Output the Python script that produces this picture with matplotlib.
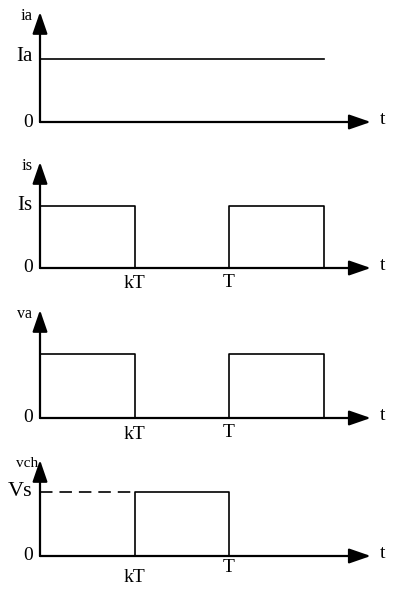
import numpy as np
import matplotlib
matplotlib.use("Agg")
import matplotlib.pyplot as plt

plt.rcParams["font.family"] = ["Liberation Serif", "DejaVu Serif"]
plt.rcParams["lines.scale_dashes"] = False

# time in units of the period T, duty ratio k = 0.5
k = 0.5
t_end = 1.5

t_ia = [0, t_end]
y_ia = [1, 1]

t_is = [0, 0, k, k, 1, 1, t_end, t_end]
y_is = [0, 1, 1, 0, 0, 1, 1, 0]

t_va = [0, 0, k, k, 1, 1, t_end, t_end]
y_va = [0, 1, 1, 0, 0, 1, 1, 0]

t_vch = [k, k, 1, 1]
y_vch = [0, 1, 1, 0]
t_vch_dash = [0, k]
y_vch_dash = [1, 1]

W, H = 393, 592
fig = plt.figure(figsize=(W / 100, H / 100), dpi=100)

X0 = 40          # pixel column of t = 0
PX_T = 189       # pixels per period
T_ARROW = 1.75   # tip of the time axis


def panel(base_px, level_px, tip_px):
    ax = fig.add_axes([0, 0, 1, 1])
    ax.patch.set_alpha(0)
    ax.axis("off")
    scale = base_px - level_px
    ax.set_xlim(-X0 / PX_T, (W - X0) / PX_T)
    ax.set_ylim((base_px - H) / scale, base_px / scale)
    y_tip = (base_px - tip_px) / scale
    arrow = dict(arrowstyle="-|>,head_length=1.1,head_width=0.38",
                 mutation_scale=12, lw=1.6, color="black",
                 shrinkA=0, shrinkB=0)
    ax.annotate("", xy=(T_ARROW, 0), xytext=(0, 0), arrowprops=arrow)
    ax.annotate("", xy=(0, y_tip), xytext=(0, 0), arrowprops=arrow)
    ax.text(T_ARROW + 0.05, 0.04, "t", fontsize=14, ha="left", va="center")
    ax.text(-0.035, 0, "0", fontsize=14, ha="right", va="center")
    return ax, y_tip


lw = 1.2
fs_big = 15
fs_tick = 14

# armature current
ax, yt = panel(122, 59, 12)
ax.plot(t_ia, y_ia, color="black", lw=lw)
ax.text(-0.04, yt - 0.07, "ia", fontsize=12, ha="right", va="center")
ax.text(-0.04, 1.04, "Ia", fontsize=fs_big, ha="right", va="center")

# source current
ax, yt = panel(268, 206, 162)
ax.plot(t_is, y_is, color="black", lw=lw)
ax.text(-0.04, yt - 0.07, "is", fontsize=12, ha="right", va="center")
ax.text(-0.04, 1.0, "Is", fontsize=fs_big, ha="right", va="center")
ax.text(k, -0.12, "kT", fontsize=fs_tick, ha="center", va="top")
ax.text(1, -0.09, "T", fontsize=fs_tick, ha="center", va="top")

# armature voltage
ax, yt = panel(418, 354, 310)
ax.plot(t_va, y_va, color="black", lw=lw)
ax.text(-0.04, yt - 0.06, "va", fontsize=11.5, ha="right", va="center")
ax.text(k, -0.12, "kT", fontsize=fs_tick, ha="center", va="top")
ax.text(1, -0.09, "T", fontsize=fs_tick, ha="center", va="top")

# chopper voltage
ax, yt = panel(556, 492, 460)
ax.plot(t_vch, y_vch, color="black", lw=lw)
ax.plot(t_vch_dash, y_vch_dash, color="black", lw=lw,
        linestyle=(0, (9, 5)))
ax.text(-0.01, yt - 0.05, "vch", fontsize=11, ha="right", va="center")
ax.text(-0.04, 1.0, "Vs", fontsize=fs_big + 1, ha="right", va="center")
ax.text(k, -0.2, "kT", fontsize=fs_tick, ha="center", va="top")
ax.text(1, -0.05, "T", fontsize=fs_tick, ha="center", va="top")

fig.savefig("out.png", dpi=100)
